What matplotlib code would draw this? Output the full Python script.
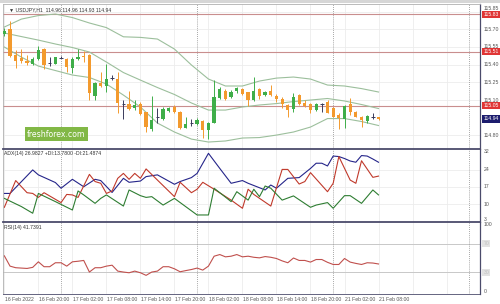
import matplotlib
matplotlib.use("Agg")
import matplotlib.pyplot as plt
import matplotlib.transforms as mtransforms
import numpy as np

# --- USDJPY H1 candles ---
opens = [115.656, 115.699, 115.481, 115.453, 115.431, 115.402, 115.450, 115.532, 115.411, 115.408,
         115.460, 115.445, 115.368, 115.445, 115.473, 115.481, 115.134, 115.241, 115.219, 115.284,
         115.278, 115.067, 115.066, 115.035, 115.066, 114.995, 114.854, 114.953, 114.942, 115.007,
         115.044, 115.001, 114.866, 114.902, 114.894, 114.925, 114.846, 114.908, 115.114, 115.179,
         115.123, 115.176, 115.190, 115.165, 115.100, 115.190, 115.142, 115.176, 115.134, 115.106,
         115.058, 115.021, 115.142, 115.077, 115.063, 115.015, 115.066, 115.080, 115.029, 114.973,
         114.939, 115.063, 114.995, 114.953, 114.922, 114.960, 114.960]
highs = [115.707, 115.772, 115.524, 115.529, 115.481, 115.462, 115.558, 115.538, 115.462, 115.467,
         115.470, 115.453, 115.467, 115.529, 115.518, 115.490, 115.255, 115.340, 115.402, 115.312,
         115.340, 115.100, 115.179, 115.100, 115.086, 115.001, 115.137, 115.029, 115.038, 115.044,
         115.058, 115.007, 114.953, 114.939, 114.945, 114.931, 114.916, 115.269, 115.207, 115.190,
         115.185, 115.213, 115.199, 115.171, 115.292, 115.199, 115.176, 115.227, 115.151, 115.123,
         115.066, 115.162, 115.151, 115.100, 115.072, 115.072, 115.077, 115.100, 115.038, 114.987,
         115.058, 115.114, 115.007, 114.964, 114.973, 114.993, 114.960]
lows = [115.645, 115.462, 115.368, 115.411, 115.397, 115.394, 115.439, 115.360, 115.388, 115.405,
        115.455, 115.340, 115.332, 115.439, 115.425, 115.100, 115.100, 115.207, 115.165, 115.269,
        114.993, 114.936, 115.015, 115.015, 114.973, 114.832, 114.837, 114.902, 114.931, 114.998,
        114.987, 114.857, 114.860, 114.880, 114.885, 114.781, 114.767, 114.902, 115.108, 115.100,
        115.114, 115.156, 115.142, 115.049, 115.092, 115.108, 115.137, 115.137, 115.086, 115.029,
        114.953, 115.001, 115.058, 115.038, 114.987, 115.010, 115.001, 114.987, 114.953, 114.851,
        114.860, 114.973, 114.953, 114.874, 114.908, 114.939, 114.930]
closes = [115.688, 115.473, 115.431, 115.431, 115.414, 115.445, 115.524, 115.397, 115.411, 115.462,
          115.460, 115.380, 115.450, 115.467, 115.462, 115.156, 115.247, 115.221, 115.275, 115.284,
          115.072, 115.067, 115.024, 115.055, 114.981, 114.868, 114.931, 114.953, 115.024, 115.035,
          114.998, 114.863, 114.897, 114.902, 114.931, 114.843, 114.902, 115.128, 115.190, 115.111,
          115.171, 115.205, 115.151, 115.100, 115.179, 115.134, 115.168, 115.142, 115.111, 115.063,
          115.015, 115.128, 115.063, 115.049, 115.015, 115.066, 115.066, 114.993, 114.959, 114.945,
          115.049, 114.995, 114.959, 114.931, 114.964, 114.960, 114.940]

# Bollinger bands, read every 3 bars
band_bars = list(range(0, 67, 3))
bb_upper = [115.719, 115.786, 115.816, 115.829, 115.799, 115.753, 115.714, 115.636, 115.631, 115.617,
            115.532, 115.397, 115.278, 115.219, 115.219, 115.261, 115.286, 115.295, 115.278, 115.227,
            115.219, 115.197, 115.168]
bb_middle = [115.668, 115.638, 115.608, 115.575, 115.545, 115.507, 115.422, 115.333, 115.269, 115.206,
             115.147, 115.075, 115.015, 115.015, 115.041, 115.058, 115.070, 115.087, 115.100, 115.113,
             115.092, 115.062, 115.028]
bb_lower = [115.549, 115.464, 115.388, 115.350, 115.312, 115.291, 115.236, 115.142, 115.041, 114.905,
            114.829, 114.769, 114.744, 114.753, 114.778, 114.782, 114.803, 114.829, 114.871, 114.943,
            114.943, 114.918, 114.884]

# horizontal levels and price ticks
levels = [115.83, 115.51, 115.05]
last_price = 114.94
price_ticks = [115.85, 115.70, 115.55, 115.40, 115.25, 115.10, 114.80]

# ADX(14) lines (bar, value) vertices
adx_bars = [0, 1, 5, 6, 9, 10, 12, 14, 16, 17, 19, 21, 22, 24, 25, 27, 30, 31, 33, 34, 36, 38, 40, 42,
            43, 46, 47, 48, 50, 52, 54, 55, 56, 57, 58, 59, 60, 61, 62, 63, 64, 65, 66]
adx_vals = [14.4, 14.4, 23.9, 21.9, 18.8, 16.5, 20.1, 17.1, 20.1, 19.6, 14.8, 20.5, 18.9, 19.4, 21.2,
            21.9, 18.1, 19.2, 20.8, 22.5, 30.6, 24.5, 18.5, 19.6, 18.5, 15.8, 17.8, 16.5, 20.5, 20.8,
            24.5, 26.6, 26.6, 25.5, 29.5, 29.3, 28.5, 27.5, 27.0, 29.7, 29.5, 28.3, 27.0]
mdi_bars = [0, 2, 4, 5, 6, 7, 10, 11, 12, 13, 15, 16, 17, 18, 19, 20, 21, 22, 23, 24, 25, 27, 30, 31,
            33, 34, 35, 37, 40, 42, 43, 44, 47, 49, 50, 52, 53, 54, 57, 58, 59, 61, 62, 63, 65, 66]
mdi_vals = [8.8, 19.6, 14.7, 14.4, 12.8, 14.7, 10.7, 14.0, 13.8, 12.8, 22.1, 19.2, 18.5, 14.4, 15.4,
            20.5, 22.5, 20.1, 22.5, 20.5, 24.3, 19.8, 13.1, 18.9, 14.7, 16.1, 18.9, 16.1, 11.7, 8.4,
            16.1, 14.0, 9.3, 24.1, 24.1, 18.2, 19.2, 22.8, 15.1, 18.5, 29.3, 19.8, 18.5, 27.6, 20.9,
            21.4]
pdi_bars = [0, 3, 5, 6, 9, 12, 13, 14, 16, 17, 18, 21, 22, 24, 25, 26, 28, 30, 34, 36, 37, 40, 41, 43,
            44, 45, 46, 47, 49, 51, 54, 55, 57, 58, 60, 61, 63, 65, 66]
pdi_vals = [12.4, 9.1, 6.4, 14.4, 11.1, 7.7, 15.4, 13.8, 10.4, 12.4, 13.8, 9.3, 15.8, 13.5, 12.8, 13.1,
            9.7, 12.4, 5.7, 5.7, 16.5, 11.1, 15.1, 11.7, 16.1, 13.1, 17.4, 16.5, 11.7, 13.4, 8.8, 9.7,
            10.7, 8.4, 13.5, 13.5, 10.4, 15.8, 13.8]
adx_ticks = [32, 24, 17, 10, 3]

# RSI(14), one value per bar
rsi = [53.0, 38.7, 36.5, 36.0, 35.5, 37.0, 44.7, 37.9, 37.9, 43.4, 43.4, 38.7, 44.7, 45.5, 46.6, 30.5,
       36.5, 36.5, 38.7, 40.0, 31.8, 30.5, 29.5, 31.8, 29.5, 25.9, 30.5, 31.8, 37.9, 37.9, 35.0, 30.9,
       32.5, 34.0, 36.0, 33.2, 38.7, 52.5, 54.8, 51.6, 52.5, 54.8, 51.6, 52.5, 51.0, 50.2, 52.0, 51.0,
       49.3, 46.0, 43.4, 50.0, 46.6, 46.6, 44.3, 47.9, 47.9, 44.0, 41.0, 41.0, 49.3, 44.3, 42.5, 41.0,
       43.4, 43.0, 41.7]

x_labels = ["16 Feb 2022", "16 Feb 20:00", "17 Feb 02:00", "17 Feb 08:00", "17 Feb 14:00",
            "17 Feb 20:00", "18 Feb 02:00", "18 Feb 08:00", "18 Feb 14:00", "18 Feb 20:00",
            "21 Feb 02:00", "21 Feb 08:00"]
label_bars = list(range(0, 67, 6))
day_breaks = [10, 34, 58, 82]

GREEN = "#3fae49"
ORANGE = "#f39a2e"
DOJI = "#3a3a5a"
BAND = "#9cbf9c"
LEVEL = "#c98e8e"
GRID = "#ececec"
SEP = "#4b4b6b"
TXT = "#555555"
FS = 3.7
NARROW = ["Liberation Sans Narrow", "Liberation Sans", "DejaVu Sans"]

W, H = 500, 304
fig = plt.figure(figsize=(W / 100, H / 100), dpi=100)
fig.patch.set_facecolor("white")


def box(top, bottom, left=3, right=480):
    return [left / W, 1 - bottom / H, (right - left) / W, (bottom - top) / H]


ax_p = fig.add_axes(box(4, 149))
ax_a = fig.add_axes(box(149, 222))
ax_r = fig.add_axes(box(222, 294))
XLIM = (-0.24, 83.9)

for ax in (ax_p, ax_a, ax_r):
    ax.set_xlim(*XLIM)
    ax.set_xticks([])
    ax.set_yticks([])
    for s in ax.spines.values():
        s.set_color("#b0b0b0")
        s.set_linewidth(0.6)
    ax.spines["right"].set_color(SEP)
    ax.spines["right"].set_linewidth(0.9)
    for b in range(0, 85, 6):
        ax.axvline(b, color=GRID, lw=0.6, zorder=0)
    for b in day_breaks:
        ax.axvline(b, color="#8a8a8a", lw=0.6, ls=(0, (1, 1.5)), zorder=1)

for ax in (ax_a, ax_r):
    ax.spines["top"].set_color(SEP)
    ax.spines["top"].set_linewidth(1.3)


def right_label(ax, y, s, **kw):
    tr = mtransforms.blended_transform_factory(ax.transAxes, ax.transData)
    ax.text(1.007, y, s, transform=tr, fontsize=FS, va="center", ha="left",
            family=NARROW, clip_on=False, **kw)


# --- price panel ---
ax_p.set_ylim(114.685, 115.914)
for p in price_ticks:
    ax_p.axhline(p, color=GRID, lw=0.6, zorder=0)
    # top tick label sits just above the level box, as in the terminal
    right_label(ax_p, p + 0.025 if p > 115.8 else p, f"{p:.2f}", color=TXT)
for lv in levels:
    ax_p.axhline(lv, color=LEVEL, lw=0.8, zorder=1)
    right_label(ax_p, lv - 0.006 if lv > 115.8 else lv, f"{lv:.2f}", color="white",
                bbox=dict(boxstyle="square,pad=0.2", fc="#e03535", ec="none"))
right_label(ax_p, last_price, f"{last_price:.2f}", color="white",
            bbox=dict(boxstyle="square,pad=0.25", fc="#1c1c6e", ec="none"))

ax_p.plot(band_bars, bb_upper, color=BAND, lw=0.8, zorder=2)
ax_p.plot(band_bars, bb_middle, color=BAND, lw=0.8, zorder=2)
ax_p.plot(band_bars, bb_lower, color=BAND, lw=0.8, zorder=2)

o, h, l, c = (np.array(v) for v in (opens, highs, lows, closes))
idx = np.arange(len(o))
colors = np.where(c > o, GREEN, np.where(c < o, ORANGE, DOJI))
ax_p.vlines(idx, l, h, colors=colors, lw=0.7, zorder=3)
ax_p.bar(idx, np.abs(c - o), bottom=np.minimum(o, c), width=0.58, color=colors, lw=0, zorder=4)
flat = c == o
ax_p.hlines(c[flat], idx[flat] - 0.3, idx[flat] + 0.3, colors=DOJI, lw=0.7, zorder=4)

ax_p.text(0.012, 0.975, "\u25bc USDJPY,H1  114.96 114.96 114.93 114.94", transform=ax_p.transAxes,
          fontsize=FS, color="#333333", va="top", ha="left", family=NARROW)
ax_p.text(0.05, 0.103, "freshforex.com", transform=ax_p.transAxes, fontsize=5.6,
          color="white", va="center", ha="left", zorder=6,
          bbox=dict(boxstyle="square,pad=0.3", fc="#82b846", ec="none"))

# --- ADX panel ---
ax_a.set_ylim(2.86, 32.35)
for t in adx_ticks:
    if 3 < t < 32:
        ax_a.axhline(t, color=GRID, lw=0.6, zorder=0)
    right_label(ax_a, min(max(t, 4.0), 31.2), str(t), color=TXT)
ax_a.plot(adx_bars, adx_vals, color="#25258a", lw=0.8)
ax_a.plot(mdi_bars, mdi_vals, color="#c0392b", lw=0.8)
ax_a.plot(pdi_bars, pdi_vals, color="#2e7d32", lw=0.8)
ax_a.text(0.002, 0.97, "ADX(14) 26.9827 +DI:13.7800 -DI:21.4874", transform=ax_a.transAxes,
          fontsize=FS, color="#333333", va="top", ha="left", family=NARROW)

# --- RSI panel ---
ax_r.set_ylim(0, 100)
for lv in (70, 30):
    ax_r.axhline(lv, color="#c8c8c8", lw=0.7, zorder=0)
    right_label(ax_r, lv, str(lv), color="#c0c0c0",
                bbox=dict(boxstyle="square,pad=0.2", fc="#e2e2e2", ec="none"))
right_label(ax_r, 96, "100", color=TXT)
right_label(ax_r, 3, "0", color=TXT)
ax_r.plot(idx, rsi, color="#c0504d", lw=0.8)
ax_r.text(0.002, 0.96, "RSI(14) 41.7391", transform=ax_r.transAxes,
          fontsize=FS, color="#333333", va="top", ha="left", family=NARROW)
ax_r.spines["bottom"].set_color(SEP)

for b, s in zip(label_bars, x_labels):
    ax_r.annotate(s, xy=(b, 0), xycoords=("data", "axes fraction"), xytext=(0.5, -2),
                  textcoords="offset points", fontsize=FS, color=TXT, va="top", ha="left",
                  family=NARROW, annotation_clip=False)

# top strip
fig.add_artist(plt.Rectangle((0, 1 - 3 / H), 1, 3 / H, transform=fig.transFigure,
                             fc="#d6d6d6", ec="none"))

fig.savefig("out.png", dpi=100)
